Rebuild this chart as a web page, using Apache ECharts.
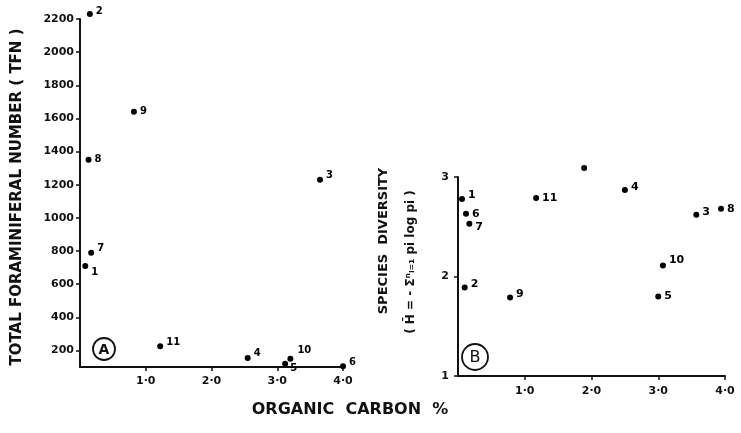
<!DOCTYPE html>
<html>
<head>
<meta charset="utf-8">
<script src="https://cdn.jsdelivr.net/npm/echarts@6/dist/echarts.min.js"></script>
<style>
html,body{margin:0;padding:0;background:#fff;}
#chart{width:741px;height:433px;}
</style>
</head>
<body>
<div id="chart"></div>
<script>
// ---- Data ----
// Panel A: Total Foraminiferal Number vs Organic Carbon %
const stationsA = ['1', '2', '3', '4', '5', '6', '7', '8', '9', '10', '11'];
const carbonA   = [0.08, 0.15, 3.65, 2.55, 3.12, 4.00, 0.17, 0.13, 0.82, 3.20, 1.22];
const tfnA      = [710, 2230, 1230, 155, 120, 105, 790, 1350, 1640, 150, 225];

// Panel B: Species diversity vs Organic Carbon %
const stationsB  = ['1', '6', '7', '11', '', '4', '3', '8', '10', '2', '9', '5'];
const carbonB    = [0.06, 0.12, 0.17, 1.17, 1.89, 2.50, 3.57, 3.94, 3.07, 0.10, 0.78, 3.00];
const diversityB = [2.78, 2.63, 2.53, 2.79, 3.09, 2.87, 2.62, 2.68, 2.11, 1.89, 1.79, 1.80];

// Tick values / labels
const xTickValues = [1, 2, 3, 4];
const xTickLabels = ['1·0', '2·0', '3·0', '4·0'];
const tfnTickValues = [200, 400, 600, 800, 1000, 1200, 1400, 1600, 1800, 2000, 2200];
const tfnTickLabels = ['200', '400', '600', '800', '1000', '1200', '1400', '1600', '1800', '2000', '2200'];
const divTickValues = [1, 2, 3];
const divTickLabels = ['1', '2', '3'];

// ---- Styling (kept apart from data) ----
const INK = '#111';
const FONT = 'DejaVu Sans';
const labelOffsetA = { '1': [0, 6], '5': [-1, 5], '10': [1, -8], '2': [0, -3], '7': [0, -4], '11': [0, -4], '3': [0, -4], '4': [0, -4], '6': [0, -4] };
const labelOffsetB = { '1': [0, -4], '7': [0, 3], '4': [0, -3], '3': [0, -3], '10': [0, -5], '2': [0, -3], '9': [0, -3] };

function points(xs, ys, ids, offsets) {
  return xs.map((x, i) => ({
    value: [x, ys[i]],
    label: { show: ids[i] !== '', formatter: ids[i], offset: offsets[ids[i]] || [0, 0] }
  }));
}

const axisLineStyle = { show: true, lineStyle: { color: INK, width: 2 } };
const tickStyle = { show: true, length: 4, lineStyle: { color: INK, width: 1.5 } };
const labelStyle = { color: INK, fontFamily: FONT, fontSize: 11, fontWeight: 'bold' };

const option = {
  backgroundColor: '#fff',
  animation: false,
  grid: [
    { left: 80, top: 19, width: 263, height: 348 },
    { left: 458, top: 177, width: 267, height: 199 }
  ],
  xAxis: [
    {
      type: 'value', gridIndex: 0, min: 0, max: 4,
      axisLine: axisLineStyle,
      axisTick: Object.assign({ customValues: xTickValues }, tickStyle),
      axisLabel: Object.assign({ customValues: xTickValues, margin: 9,
        formatter: v => xTickLabels[xTickValues.indexOf(v)] || '' }, labelStyle),
      splitLine: { show: false }
    },
    {
      type: 'value', gridIndex: 1, min: 0, max: 4,
      axisLine: axisLineStyle,
      axisTick: Object.assign({ customValues: xTickValues }, tickStyle),
      axisLabel: Object.assign({ customValues: xTickValues, margin: 10,
        formatter: v => xTickLabels[xTickValues.indexOf(v)] || '' }, labelStyle),
      splitLine: { show: false }
    }
  ],
  yAxis: [
    {
      type: 'value', gridIndex: 0, min: 100, max: 2200,
      axisLine: axisLineStyle,
      axisTick: Object.assign({ customValues: tfnTickValues }, tickStyle),
      axisLabel: Object.assign({ customValues: tfnTickValues, margin: 6,
        formatter: v => tfnTickLabels[tfnTickValues.indexOf(v)] || '' }, labelStyle),
      splitLine: { show: false }
    },
    {
      type: 'value', gridIndex: 1, min: 1, max: 3, interval: 1,
      axisLine: axisLineStyle,
      axisTick: tickStyle,
      axisLabel: Object.assign({ margin: 9,
        formatter: v => divTickLabels[divTickValues.indexOf(v)] || '' }, labelStyle),
      splitLine: { show: false }
    }
  ],
  series: [
    {
      type: 'scatter', xAxisIndex: 0, yAxisIndex: 0, clip: false,
      symbolSize: 6, itemStyle: { color: '#000', opacity: 1 },
      label: { position: 'right', distance: 3, color: '#000', fontFamily: FONT, fontSize: 10, fontWeight: 'bold' },
      data: points(carbonA, tfnA, stationsA, labelOffsetA)
    },
    {
      type: 'scatter', xAxisIndex: 1, yAxisIndex: 1, clip: false,
      symbolSize: 6, itemStyle: { color: '#000', opacity: 1 },
      label: { position: 'right', distance: 3, color: '#000', fontFamily: FONT, fontSize: 11, fontWeight: 'bold' },
      data: points(carbonB, diversityB, stationsB, labelOffsetB)
    }
  ],
  graphic: [
    { type: 'text', x: 17, y: 197, rotation: Math.PI / 2,
      style: { text: 'TOTAL FORAMINIFERAL NUMBER ( TFN )', fill: INK, font: 'bold 15px "DejaVu Sans"', textAlign: 'center', textVerticalAlign: 'middle' } },
    { type: 'text', x: 350, y: 410,
      style: { text: 'ORGANIC  CARBON  %', fill: INK, font: 'bold 16px "DejaVu Sans"', textAlign: 'center', textVerticalAlign: 'middle' } },
    { type: 'text', x: 384, y: 241, rotation: Math.PI / 2,
      style: { text: 'SPECIES  DIVERSITY', fill: INK, font: 'bold 13px "DejaVu Sans"', textAlign: 'center', textVerticalAlign: 'middle' } },
    { type: 'text', x: 411, y: 262, rotation: Math.PI / 2,
      style: { text: '( H̄ = - Σⁿᵢ₌₁ pi log pi )', fill: INK, font: 'bold 12px "DejaVu Sans"', textAlign: 'center', textVerticalAlign: 'middle' } },
    { type: 'circle', shape: { cx: 104, cy: 349, r: 11 }, style: { fill: 'none', stroke: INK, lineWidth: 1.8 } },
    { type: 'text', x: 104, y: 350,
      style: { text: 'A', fill: INK, font: 'bold 14px "DejaVu Sans"', textAlign: 'center', textVerticalAlign: 'middle' } },
    { type: 'circle', shape: { cx: 475, cy: 357, r: 13 }, style: { fill: 'none', stroke: INK, lineWidth: 1.8 } },
    { type: 'text', x: 475, y: 358,
      style: { text: 'B', fill: INK, font: '16px "DejaVu Sans"', textAlign: 'center', textVerticalAlign: 'middle' } }
  ]
};

const chart = echarts.init(document.getElementById('chart'), null, { renderer: 'canvas' });
chart.setOption(option);
</script>
</body>
</html>
